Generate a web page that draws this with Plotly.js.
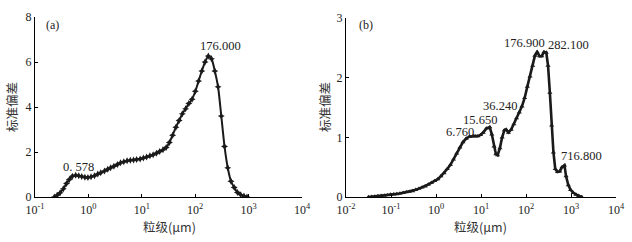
<!DOCTYPE html>
<html>
<head>
<meta charset="utf-8">
<script src="https://cdn.plot.ly/plotly-3.0.1.min.js"></script>
<style>html,body{margin:0;padding:0;background:#fff;}#chart{width:632px;height:242px;}</style>
</head>
<body>
<div id="chart"></div>
<script>
// Panel (a)
const xA = [0.23,0.26,0.295,0.34,0.39,0.44,0.5,0.578,0.66,0.75,0.86,0.98,1.12,1.3,1.5,1.7,2.0,2.3,2.6,3.0,3.5,4.0,4.6,5.3,6.1,7.0,8.0,9.3,10.7,12.3,14.2,16.3,18.8,21.6,24.9,28.6,32.9,37.8,43.5,50,57.5,66.1,76,87.4,100.5,115.6,133,152.9,176,202,233,268,308,354,407,468,538,619,712,819,933];
const yA = [0,0.08,0.19,0.37,0.6,0.78,0.92,0.97,0.95,0.91,0.88,0.87,0.9,0.95,1.02,1.08,1.16,1.23,1.3,1.37,1.45,1.52,1.57,1.61,1.63,1.65,1.67,1.69,1.73,1.78,1.83,1.88,1.94,2.02,2.1,2.2,2.42,2.75,3.1,3.4,3.7,3.92,4.15,4.35,4.7,5.15,5.6,6.0,6.27,6.15,5.6,4.9,3.6,2.25,1.3,0.7,0.42,0.2,0.1,0.04,0.0];
const peaksA = [0.578, 176.0];
const peakLabelsA = ["0. 578", "176.000"];

// Panel (b)
const xB = [0.0316,0.0372,0.0437,0.0513,0.0603,0.0708,0.0832,0.0977,0.115,0.135,0.158,0.186,0.219,0.257,0.302,0.355,0.417,0.49,0.575,0.676,0.794,0.933,1.10,1.29,1.51,1.78,2.09,2.45,2.88,3.39,3.98,4.68,5.50,6.76,7.41,8.51,9.77,11.2,13.2,15.65,17.4,19.5,21.4,23.4,26.3,29.5,33.1,36.24,40.7,46.8,53.7,61.7,70.8,81.3,93.3,107,123,141,158,176.9,200,224,251,282.1,309,339,372,407,447,501,562,631,716.8,776,871,977,1122,1288,1479,1738];
const yB = [0,0.005,0.01,0.015,0.02,0.025,0.03,0.04,0.045,0.05,0.06,0.07,0.08,0.09,0.1,0.12,0.14,0.16,0.18,0.21,0.24,0.27,0.3,0.35,0.4,0.47,0.54,0.63,0.73,0.83,0.92,0.98,1.01,1.02,1.02,1.02,1.04,1.08,1.15,1.17,1.05,0.85,0.72,0.7,0.82,1.0,1.12,1.13,1.08,1.13,1.22,1.32,1.42,1.52,1.66,1.85,2.02,2.2,2.37,2.43,2.36,2.36,2.43,2.42,2.2,1.75,1.2,0.75,0.47,0.42,0.43,0.5,0.53,0.35,0.2,0.12,0.07,0.04,0.02,0.0];
const peaksB = [6.76, 15.65, 36.24, 176.9, 282.1, 716.8];
const peakLabelsB = ["6.760", "15.650", "36.240", "176.900", "282.100", "716.800"];

const tickVals = [0.01,0.1,1,10,100,1000,10000];
const tickText = ["10<sup>-2</sup>","10<sup>-1</sup>","10<sup>0</sup>","10<sup>1</sup>","10<sup>2</sup>","10<sup>3</sup>","10<sup>4</sup>"];
const yTitle = "标准偏差";
const xTitle = "粒级(μm)";

const serif = "Liberation Serif";
const cjk = "Noto Sans CJK SC";
const ink = "#1a1a1a";

function yAt(xs, ys, v){ return ys[xs.indexOf(v)]; }

const traces = [
  {x:xA, y:yA, xaxis:'x', yaxis:'y', type:'scatter', mode:'lines+markers',
   line:{color:ink, width:2, shape:'spline', smoothing:0.6},
   marker:{symbol:'star-diamond', size:5, color:ink}, hoverinfo:'skip'},
  {x:xB, y:yB, xaxis:'x2', yaxis:'y2', type:'scatter', mode:'lines+markers',
   line:{color:ink, width:2.6},
   marker:{symbol:'triangle-up', size:4.5, color:ink}, hoverinfo:'skip'}
];

const axisCommon = {showline:true, linecolor:'#000', linewidth:1, ticks:'inside', ticklen:3, tickcolor:'#000',
  showgrid:false, zeroline:false, tickfont:{family:serif, size:12, color:'#222'}, mirror:false};

const shiftsA = [[3,8],[12,10]];
const shiftsB = [[-13,4],[-10,7],[-6,24],[-13,9],[22,7.5],[17,9]];

const lblFont = {family:serif, size:12.5, color:'#222'};
const ann = [];
peaksA.forEach((p,i)=>ann.push({xref:'x', yref:'y', x:Math.log10(p), y:yAt(xA,yA,p), text:peakLabelsA[i], showarrow:false,
  xanchor:'center', yanchor:'middle', xshift:shiftsA[i][0], yshift:shiftsA[i][1], font:lblFont}));
peaksB.forEach((p,i)=>ann.push({xref:'x2', yref:'y2', x:Math.log10(p), y:yAt(xB,yB,p), text:peakLabelsB[i], showarrow:false,
  xanchor:'center', yanchor:'middle', xshift:shiftsB[i][0], yshift:shiftsB[i][1], font:lblFont}));
function paperAnn(px, py, text, font, angle){
  return {xref:'paper', yref:'paper', x:px/632, y:1-py/242, text:text, showarrow:false, xanchor:'center', yanchor:'middle',
          textangle:angle||0, font:font};
}
const titleFont = {family:cjk, size:12.5, color:'#333'};
ann.push(paperAnn(52, 25, '(a)', {family:serif, size:12, color:'#222'}));
ann.push(paperAnn(366, 25, '(b)', {family:serif, size:12, color:'#222'}));
ann.push(paperAnn(169, 226, xTitle, titleFont));
ann.push(paperAnn(481, 226, xTitle, titleFont));
ann.push(paperAnn(11, 107, yTitle, titleFont, -90));
ann.push(paperAnn(324, 107, yTitle, titleFont, -90));

const layout = {
  width:632, height:242, margin:{l:0,r:0,t:0,b:0}, paper_bgcolor:'#fff', plot_bgcolor:'#fff', showlegend:false,
  xaxis:Object.assign({}, axisCommon, {domain:[35/632, 302/632], type:'log', range:[-1,4], anchor:'y',
     tickmode:'array', tickvals:tickVals.slice(1), ticktext:tickText.slice(1), ticklabelstandoff:2}),
  yaxis:Object.assign({}, axisCommon, {domain:[45/242, 225/242], range:[0,8], dtick:2, anchor:'x'}),
  xaxis2:Object.assign({}, axisCommon, {domain:[346/632, 616/632], type:'log', range:[-2,4], anchor:'y2',
     tickmode:'array', tickvals:tickVals, ticktext:tickText, ticklabelstandoff:2}),
  yaxis2:Object.assign({}, axisCommon, {domain:[45/242, 224/242], range:[0,3], dtick:1, anchor:'x2'}),
  annotations:ann
};

Plotly.newPlot('chart', traces, layout, {staticPlot:true, displayModeBar:false});
</script>
</body>
</html>
